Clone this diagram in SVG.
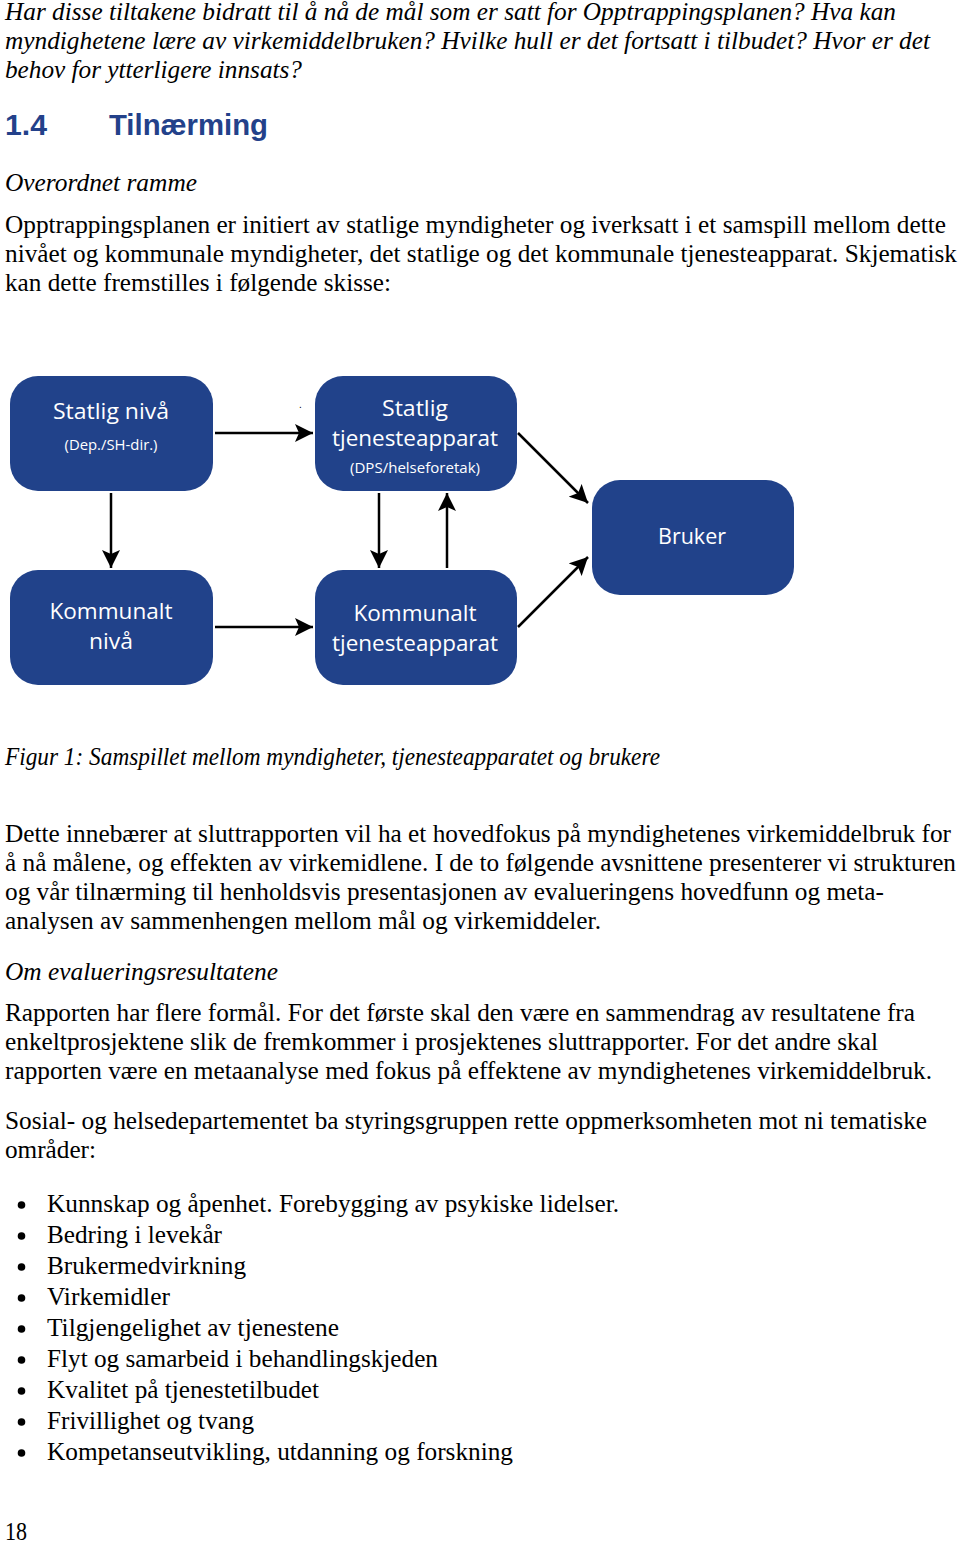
<svg xmlns="http://www.w3.org/2000/svg" width="960" height="1542" viewBox="0 0 960 1542">
<defs>
<style>
.t{font-family:"Liberation Serif","Times New Roman",serif;font-size:25px;fill:#000}
.i{font-family:"Liberation Serif","Times New Roman",serif;font-size:25px;font-style:italic;fill:#000}
.h{font-family:"Liberation Sans",Arial,sans-serif;font-size:30px;font-weight:bold;fill:#23418a}
.box{fill:#21428a}
.n{font-family:"Open Sans","Noto Sans",sans-serif;font-size:22px;fill:#fff;text-anchor:middle}
.s{font-family:"Open Sans","Noto Sans",sans-serif;font-size:15px;fill:#fff;text-anchor:middle}
.c{stroke:#000;stroke-width:2.5;fill:none;marker-end:url(#ah)}
</style>
<marker id="ah" markerUnits="userSpaceOnUse" markerWidth="20" markerHeight="18" refX="18" refY="9" orient="auto">
<path d="M0,0 L18,9 L0,18 L4,9 Z" fill="#000"/>
</marker>
</defs>
<rect width="960" height="1542" fill="#fff"/>

<g id="intro">
<text class="i" x="5" y="20" textLength="891" lengthAdjust="spacingAndGlyphs">Har disse tiltakene bidratt til å nå de mål som er satt for Opptrappingsplanen? Hva kan</text>
<text class="i" x="5" y="49" textLength="925" lengthAdjust="spacingAndGlyphs">myndighetene lære av virkemiddelbruken? Hvilke hull er det fortsatt i tilbudet? Hvor er det</text>
<text class="i" x="5" y="78" textLength="297" lengthAdjust="spacingAndGlyphs">behov for ytterligere innsats?</text>
<text class="h" x="5" y="135" textLength="42" lengthAdjust="spacingAndGlyphs">1.4</text>
<text class="h" x="109" y="135" textLength="159" lengthAdjust="spacingAndGlyphs">Tilnærming</text>
<text class="i" x="5" y="191" textLength="192" lengthAdjust="spacingAndGlyphs">Overordnet ramme</text>
<text class="t" x="5" y="233" textLength="941" lengthAdjust="spacingAndGlyphs">Opptrappingsplanen er initiert av statlige myndigheter og iverksatt i et samspill mellom dette</text>
<text class="t" x="5" y="262" textLength="952" lengthAdjust="spacingAndGlyphs">nivået og kommunale myndigheter, det statlige og det kommunale tjenesteapparat. Skjematisk</text>
<text class="t" x="5" y="291" textLength="386" lengthAdjust="spacingAndGlyphs">kan dette fremstilles i følgende skisse:</text>
</g>

<g id="connectors">
<line class="c" x1="215" y1="433" x2="313" y2="433"/>
<line class="c" x1="215" y1="627" x2="313" y2="627"/>
<line class="c" x1="111" y1="493" x2="111" y2="568"/>
<line class="c" x1="379" y1="493" x2="379" y2="568"/>
<line class="c" x1="447" y1="568" x2="447" y2="493"/>
<line class="c" x1="518" y1="433" x2="588" y2="503"/>
<line class="c" x1="518" y1="627" x2="588" y2="557"/>
</g>
<text x="299" y="408" font-family="Liberation Sans,sans-serif" font-size="10" fill="#000">.</text>

<g id="statlig-niva">
<rect class="box" x="10" y="376" width="203" height="115" rx="28"/>
<text class="n" x="111" y="419" textLength="116" lengthAdjust="spacingAndGlyphs">Statlig nivå</text>
<text class="s" x="111" y="450" textLength="93" lengthAdjust="spacingAndGlyphs">(Dep./SH-dir.)</text>
</g>
<g id="statlig-tjenesteapparat">
<rect class="box" x="315" y="376" width="202" height="115" rx="28"/>
<text class="n" x="415" y="416" textLength="66" lengthAdjust="spacingAndGlyphs">Statlig</text>
<text class="n" x="415" y="446" textLength="166" lengthAdjust="spacingAndGlyphs">tjenesteapparat</text>
<text class="s" x="415" y="473" textLength="130" lengthAdjust="spacingAndGlyphs">(DPS/helseforetak)</text>
</g>
<g id="bruker">
<rect class="box" x="592" y="480" width="202" height="115" rx="28"/>
<text class="n" x="692" y="544" textLength="68" lengthAdjust="spacingAndGlyphs">Bruker</text>
</g>
<g id="kommunalt-niva">
<rect class="box" x="10" y="570" width="203" height="115" rx="28"/>
<text class="n" x="111" y="619" textLength="123" lengthAdjust="spacingAndGlyphs">Kommunalt</text>
<text class="n" x="111" y="649" textLength="44" lengthAdjust="spacingAndGlyphs">nivå</text>
</g>
<g id="kommunalt-tjenesteapparat">
<rect class="box" x="315" y="570" width="202" height="115" rx="28"/>
<text class="n" x="415" y="621" textLength="123" lengthAdjust="spacingAndGlyphs">Kommunalt</text>
<text class="n" x="415" y="651" textLength="166" lengthAdjust="spacingAndGlyphs">tjenesteapparat</text>
</g>

<g id="body">
<text class="i" x="5" y="765" textLength="655" lengthAdjust="spacingAndGlyphs">Figur 1: Samspillet mellom myndigheter, tjenesteapparatet og brukere</text>
<text class="t" x="5" y="842" textLength="946" lengthAdjust="spacingAndGlyphs">Dette innebærer at sluttrapporten vil ha et hovedfokus på myndighetenes virkemiddelbruk for</text>
<text class="t" x="5" y="871" textLength="951" lengthAdjust="spacingAndGlyphs">å nå målene, og effekten av virkemidlene. I de to følgende avsnittene presenterer vi strukturen</text>
<text class="t" x="5" y="900" textLength="879" lengthAdjust="spacingAndGlyphs">og vår tilnærming til henholdsvis presentasjonen av evalueringens hovedfunn og meta-</text>
<text class="t" x="5" y="929" textLength="596" lengthAdjust="spacingAndGlyphs">analysen av sammenhengen mellom mål og virkemiddeler.</text>
<text class="i" x="5" y="980" textLength="273" lengthAdjust="spacingAndGlyphs">Om evalueringsresultatene</text>
<text class="t" x="5" y="1021" textLength="910" lengthAdjust="spacingAndGlyphs">Rapporten har flere formål. For det første skal den være en sammendrag av resultatene fra</text>
<text class="t" x="5" y="1050" textLength="873" lengthAdjust="spacingAndGlyphs">enkeltprosjektene slik de fremkommer i prosjektenes sluttrapporter. For det andre skal</text>
<text class="t" x="5" y="1079" textLength="927" lengthAdjust="spacingAndGlyphs">rapporten være en metaanalyse med fokus på effektene av myndighetenes virkemiddelbruk.</text>
<text class="t" x="5" y="1129" textLength="922" lengthAdjust="spacingAndGlyphs">Sosial- og helsedepartementet ba styringsgruppen rette oppmerksomheten mot ni tematiske</text>
<text class="t" x="5" y="1158" textLength="91" lengthAdjust="spacingAndGlyphs">områder:</text>
</g>

<g id="bullets">
<circle cx="21.5" cy="1205" r="3.8"/>
<circle cx="21.5" cy="1236" r="3.8"/>
<circle cx="21.5" cy="1267" r="3.8"/>
<circle cx="21.5" cy="1298" r="3.8"/>
<circle cx="21.5" cy="1329" r="3.8"/>
<circle cx="21.5" cy="1360" r="3.8"/>
<circle cx="21.5" cy="1391" r="3.8"/>
<circle cx="21.5" cy="1422" r="3.8"/>
<circle cx="21.5" cy="1453" r="3.8"/>
<text class="t" x="47" y="1212" textLength="572" lengthAdjust="spacingAndGlyphs">Kunnskap og åpenhet. Forebygging av psykiske lidelser.</text>
<text class="t" x="47" y="1243" textLength="175" lengthAdjust="spacingAndGlyphs">Bedring i levekår</text>
<text class="t" x="47" y="1274" textLength="199" lengthAdjust="spacingAndGlyphs">Brukermedvirkning</text>
<text class="t" x="47" y="1305" textLength="123" lengthAdjust="spacingAndGlyphs">Virkemidler</text>
<text class="t" x="47" y="1336" textLength="292" lengthAdjust="spacingAndGlyphs">Tilgjengelighet av tjenestene</text>
<text class="t" x="47" y="1367" textLength="391" lengthAdjust="spacingAndGlyphs">Flyt og samarbeid i behandlingskjeden</text>
<text class="t" x="47" y="1398" textLength="272" lengthAdjust="spacingAndGlyphs">Kvalitet på tjenestetilbudet</text>
<text class="t" x="47" y="1429" textLength="207" lengthAdjust="spacingAndGlyphs">Frivillighet og tvang</text>
<text class="t" x="47" y="1460" textLength="466" lengthAdjust="spacingAndGlyphs">Kompetanseutvikling, utdanning og forskning</text>
</g>

<text class="t" x="5" y="1540" textLength="22" lengthAdjust="spacingAndGlyphs">18</text>
</svg>
